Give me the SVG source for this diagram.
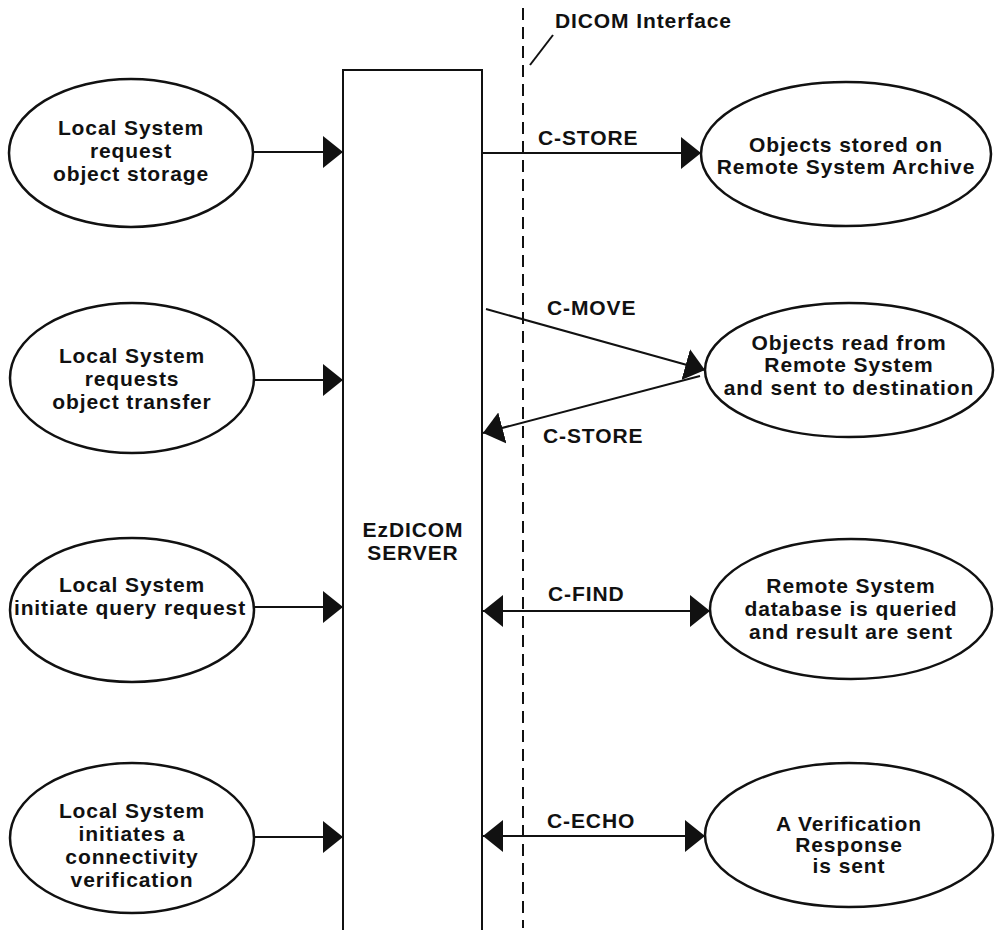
<svg xmlns="http://www.w3.org/2000/svg" width="995" height="930" viewBox="0 0 995 930">
<style>
.t{font-family:"Liberation Sans",Arial,sans-serif;font-weight:bold;font-size:21px;letter-spacing:0.9px;fill:#111;text-anchor:middle}
.l{font-family:"Liberation Sans",Arial,sans-serif;font-weight:bold;font-size:21px;letter-spacing:0.9px;fill:#111}
.e{fill:#fff;stroke:#111;stroke-width:2.5}
.c{stroke:#111;stroke-width:2;fill:none}
</style>
<defs>
<marker id="ah" markerUnits="userSpaceOnUse" markerWidth="20" markerHeight="32" refX="20" refY="16" orient="auto-start-reverse" viewBox="0 0 20 32">
<path d="M0,0 L20,16 L0,32 z" fill="#111"/>
</marker>
</defs>
<rect width="995" height="930" fill="#fff"/>
<g id="server">
<rect x="343" y="70" width="139" height="880" fill="#fff" stroke="#111" stroke-width="2"/>
<text class="t" x="413" y="537">EzDICOM</text>
<text class="t" x="413" y="560">SERVER</text>
</g>
<g id="interface">
<line x1="523" y1="8" x2="523" y2="928" stroke="#111" stroke-width="2" stroke-dasharray="12 7"/>
<line x1="530" y1="65" x2="553" y2="35" stroke="#111" stroke-width="2"/>
<text class="l" x="555" y="28">DICOM Interface</text>
</g>
<g id="local1">
<ellipse class="e" cx="131" cy="153" rx="122" ry="74"/>
<text class="t" x="131" y="135">Local System</text>
<text class="t" x="131" y="158">request</text>
<text class="t" x="131" y="181">object storage</text>
</g>
<g id="local2">
<ellipse class="e" cx="132" cy="378" rx="122" ry="75"/>
<text class="t" x="132" y="363">Local System</text>
<text class="t" x="132" y="386">requests</text>
<text class="t" x="132" y="409">object transfer</text>
</g>
<g id="local3">
<ellipse class="e" cx="132" cy="610" rx="122" ry="72"/>
<text class="t" x="132" y="592">Local System</text>
<text class="t" x="130" y="615">initiate query request</text>
</g>
<g id="local4">
<ellipse class="e" cx="132" cy="838" rx="122" ry="75"/>
<text class="t" x="132" y="818">Local System</text>
<text class="t" x="132" y="841">initiates a</text>
<text class="t" x="132" y="864">connectivity</text>
<text class="t" x="132" y="887">verification</text>
</g>
<g id="remote1">
<ellipse class="e" cx="846" cy="154" rx="145" ry="72"/>
<text class="t" x="846" y="152">Objects stored on</text>
<text class="t" x="846" y="174">Remote System Archive</text>
</g>
<g id="remote2">
<ellipse class="e" cx="849" cy="370" rx="144" ry="67"/>
<text class="t" x="849" y="350">Objects read from</text>
<text class="t" x="849" y="372">Remote System</text>
<text class="t" x="849" y="395">and sent to destination</text>
</g>
<g id="remote3">
<ellipse class="e" cx="851" cy="609" rx="141" ry="70"/>
<text class="t" x="851" y="593">Remote System</text>
<text class="t" x="851" y="616">database is queried</text>
<text class="t" x="851" y="639">and result are sent</text>
</g>
<g id="remote4">
<ellipse class="e" cx="849" cy="835" rx="144" ry="72"/>
<text class="t" x="849" y="831">A Verification</text>
<text class="t" x="849" y="852">Response</text>
<text class="t" x="849" y="873">is sent</text>
</g>
<g id="connectors">
<line class="c" x1="253" y1="152" x2="343" y2="152" marker-end="url(#ah)"/>
<line class="c" x1="255" y1="380" x2="343" y2="380" marker-end="url(#ah)"/>
<line class="c" x1="254" y1="607" x2="343" y2="607" marker-end="url(#ah)"/>
<line class="c" x1="254" y1="837" x2="343" y2="837" marker-end="url(#ah)"/>
<line class="c" x1="482" y1="153" x2="701" y2="153" marker-end="url(#ah)"/>
<line class="c" x1="486" y1="309" x2="705" y2="370" marker-end="url(#ah)"/>
<line class="c" x1="700" y1="376" x2="483" y2="433" marker-end="url(#ah)"/>
<line class="c" x1="483" y1="611" x2="710" y2="611" marker-start="url(#ah)" marker-end="url(#ah)"/>
<line class="c" x1="483" y1="836" x2="705" y2="836" marker-start="url(#ah)" marker-end="url(#ah)"/>
<text class="l" x="538" y="145">C-STORE</text>
<text class="l" x="547" y="315">C-MOVE</text>
<text class="l" x="543" y="443">C-STORE</text>
<text class="l" x="548" y="601">C-FIND</text>
<text class="l" x="547" y="828">C-ECHO</text>
</g>
</svg>
